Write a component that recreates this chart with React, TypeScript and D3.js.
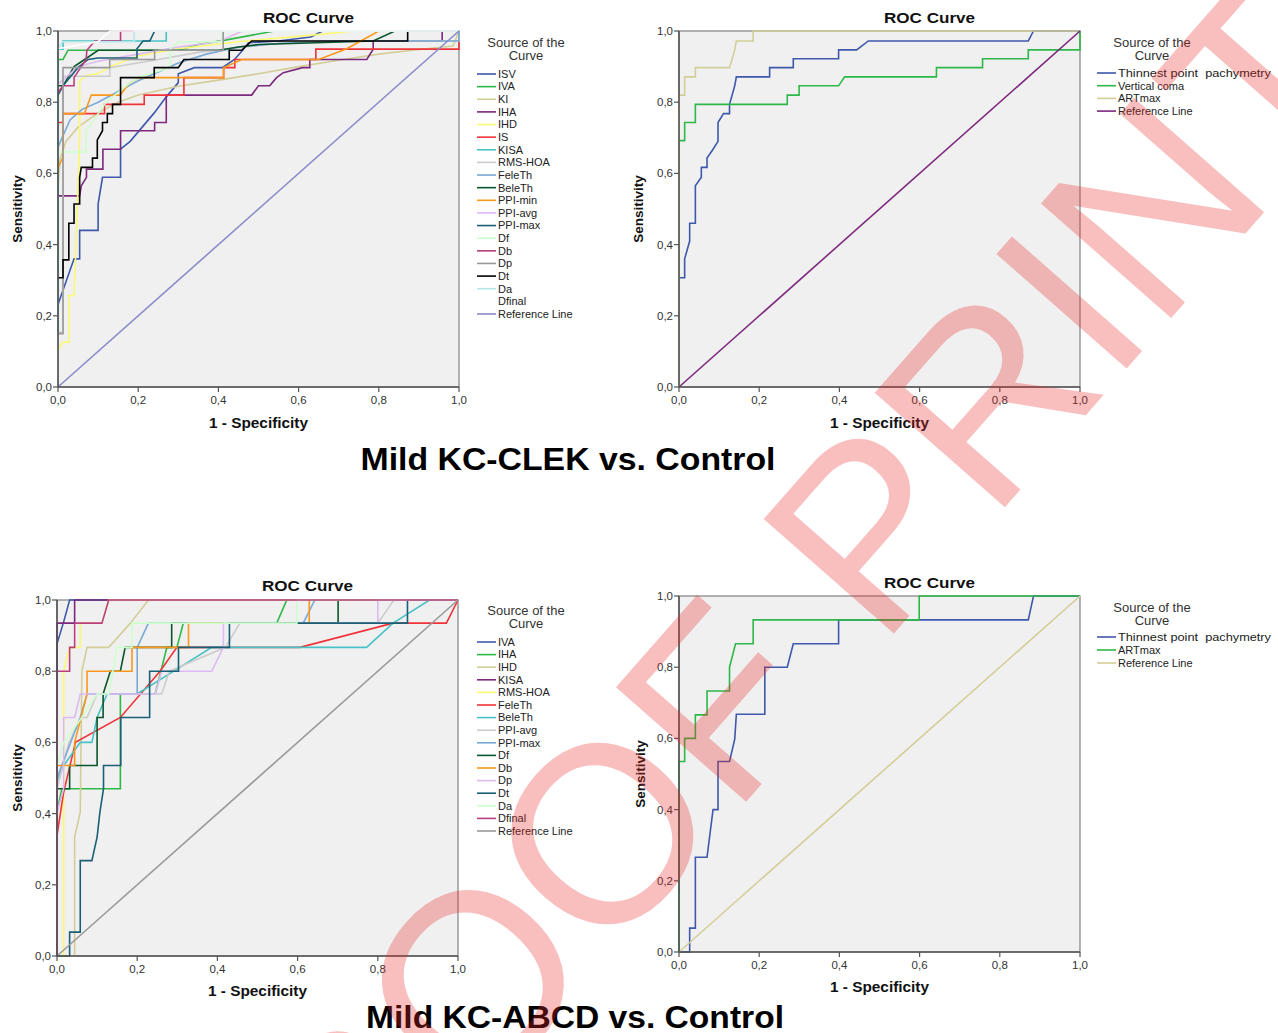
import React from "react";
import * as d3 from "d3";

type Pt = [number, number];

// SPSS default line palette
const PALETTE = ["#3E58AC","#2EB848","#D3CE97","#7C287D","#FBF873","#EF3338","#48C2C5","#CCCCCC","#7AAAD5","#0A562C","#F8981D","#DDBAF1","#1A5F76","#CCFFCC","#BB3F7F","#999999","#000000","#B6E7E8","#FFFFFF","#8A8AC8"];

const TICKS = [0, 0.2, 0.4, 0.6, 0.8, 1.0];
const REF: Pt[] = [[0, 0], [1, 1]];

// ---------- Panel 1: Mild KC-CLEK vs Control (many parameters) ----------
const tlNames = ["ISV","IVA","KI","IHA","IHD","IS","KISA","RMS-HOA","FeleTh","BeleTh","PPI-min","PPI-avg","PPI-max","Df","Db","Dp","Dt","Da","Dfinal","Reference Line"];
const tlISV: Pt[] = [[0,0.232],[0.04,0.36],[0.054,0.36],[0.054,0.44],[0.1,0.44],[0.1,0.514],[0.111,0.589],[0.156,0.589],[0.156,0.668],[0.18,0.69],[0.21,0.73],[0.24,0.77],[0.27,0.815],[0.3,0.855],[0.3,0.88],[0.34,0.897],[0.41,0.897],[0.44,0.92],[0.46,0.945],[0.475,0.967],[0.55,0.972],[0.63,0.983],[0.66,1],[1,1]];
const tlIVA: Pt[] = [[0,0],[0,0.92],[0.0125,0.92],[0.025,0.946],[0.3,0.946],[0.35,0.962],[0.42,0.975],[0.54,1],[1,1]];
const tlKI: Pt[] = [[0,0.56],[0.005,0.64],[0.02,0.69],[0.05,0.73],[0.1,0.77],[0.15,0.8],[0.2,0.82],[0.3,0.845],[0.4,0.862],[0.5,0.88],[0.6,0.9],[0.7,0.918],[0.8,0.935],[0.9,0.948],[0.985,0.958],[1,1]];
const tlIHA: Pt[] = [[0,0],[0,0.537],[0.054,0.537],[0.058,0.565],[0.071,0.589],[0.071,0.612],[0.112,0.612],[0.112,0.668],[0.156,0.668],[0.156,0.72],[0.241,0.72],[0.241,0.743],[0.27,0.743],[0.27,0.82],[0.483,0.82],[0.5,0.846],[0.528,0.846],[0.545,0.869],[0.562,0.883],[0.61,0.897],[0.628,0.897],[0.628,0.92],[0.77,0.92],[0.786,0.949],[0.786,0.972],[0.958,0.972],[0.958,1],[1,1]];
const tlIHD: Pt[] = [[0,0.103],[0.0125,0.126],[0.027,0.126],[0.027,0.257],[0.04,0.257],[0.045,0.4],[0.054,0.7],[0.054,0.86],[0.07,0.875],[0.1,0.88],[0.13,0.9],[0.2,0.93],[0.3,0.95],[0.45,0.97],[0.6,0.985],[0.74,1],[1,1]];
const tlIS: Pt[] = [[0,0],[0,0.743],[0.0125,0.743],[0.0125,0.768],[0.116,0.768],[0.116,0.794],[0.215,0.794],[0.215,0.82],[0.314,0.82],[0.314,0.869],[0.413,0.869],[0.413,0.897],[0.441,0.897],[0.441,0.92],[0.643,0.92],[0.643,0.949],[1,0.949],[1,1]];
const tlKISA: Pt[] = [[0,0],[0,0.949],[0.0125,0.949],[0.0125,0.972],[0.27,0.972],[0.27,1],[1,1]];
const tlRMS: Pt[] = [[0,0],[0,0.154],[0.0125,0.154],[0.0125,0.873],[0.129,0.873],[0.129,0.897],[0.25,0.92],[0.35,0.94],[0.6,0.972],[1,0.972],[1,1]];
const tlFeleTh: Pt[] = [[0,0.673],[0.01,0.7],[0.03,0.75],[0.06,0.78],[0.1,0.8],[0.15,0.83],[0.2,0.86],[0.25,0.885],[0.3,0.91],[0.37,0.935],[0.45,0.955],[0.55,0.965],[0.7,0.972],[1,0.972],[1,1]];
const tlBeleTh: Pt[] = [[0,0.846],[0.0125,0.846],[0.025,0.87],[0.04,0.9],[0.06,0.915],[0.1,0.946],[0.4,0.946],[0.45,0.955],[0.5,0.962],[0.786,0.972],[0.84,1],[1,1]];
const tlPPImin: Pt[] = [[0,0.617],[0.0125,0.645],[0.0125,0.768],[0.066,0.768],[0.083,0.82],[0.155,0.82],[0.175,0.85],[0.2,0.869],[0.413,0.869],[0.413,0.897],[0.458,0.92],[0.65,0.92],[0.72,0.95],[0.8,1],[1,1]];
const tlPPIavg: Pt[] = [[0,0.85],[0.02,0.87],[0.05,0.9],[0.1,0.915],[0.2,0.935],[0.3,0.955],[0.4,0.97],[0.46,1],[1,1]];
const tlPPImax: Pt[] = [[0,0.82],[0.0125,0.846],[0.03,0.87],[0.05,0.897],[0.075,0.92],[0.1,0.924],[0.197,0.924],[0.197,0.95],[0.212,0.972],[0.229,0.972],[0.241,1],[1,1]];
const tlDf: Pt[] = [[0,0.66],[0.07,0.66],[0.07,0.72],[0.12,0.8],[0.17,0.846],[0.2,0.87],[0.28,0.897],[0.28,0.95],[0.3,0.97],[0.41,0.97],[0.41,1],[1,1]];
const tlDb: Pt[] = [[0,0.827],[0.0125,0.846],[0.04,0.846],[0.04,0.869],[0.07,0.92],[0.072,0.946],[0.092,0.972],[0.156,0.972],[0.156,1],[1,1]];
const tlDp: Pt[] = [[0,0.15],[0.0125,0.15],[0.0125,0.897],[0.129,0.897],[0.129,0.92],[0.241,0.92],[0.241,0.946],[0.412,0.946],[0.412,1],[1,1]];
const tlDt: Pt[] = [[0,0.307],[0.0125,0.307],[0.0125,0.357],[0.027,0.357],[0.027,0.46],[0.04,0.46],[0.04,0.514],[0.054,0.514],[0.054,0.589],[0.058,0.617],[0.086,0.617],[0.086,0.643],[0.098,0.643],[0.098,0.694],[0.111,0.72],[0.111,0.743],[0.123,0.743],[0.123,0.768],[0.136,0.768],[0.136,0.794],[0.156,0.794],[0.156,0.869],[0.24,0.869],[0.24,0.897],[0.3,0.897],[0.314,0.92],[0.427,0.92],[0.427,0.946],[0.458,0.946],[0.483,0.972],[0.872,0.972],[0.872,1],[1,1]];
const tlDa: Pt[] = [[0,0.949],[0.012,0.97],[0.19,0.97],[0.19,1],[1,1]];
const tlDfinal: Pt[] = [[0,0.95],[0.1,0.97],[0.13,1],[1,1]];
const tlSeries: Pt[][] = [tlISV,tlIVA,tlKI,tlIHA,tlIHD,tlIS,tlKISA,tlRMS,tlFeleTh,tlBeleTh,tlPPImin,tlPPIavg,tlPPImax,tlDf,tlDb,tlDp,tlDt,tlDa,tlDfinal,REF];

// ---------- Panel 2: Mild KC-CLEK vs Control (3 parameters) ----------
const trNames = ["Thinnest point  pachymetry","Vertical coma","ARTmax","Reference Line"];
const trThin: Pt[] = [[0,0],[0,0.307],[0.0141,0.307],[0.0141,0.36],[0.0266,0.41],[0.0266,0.46],[0.0408,0.46],[0.0408,0.565],[0.0557,0.589],[0.0557,0.617],[0.0699,0.617],[0.0699,0.643],[0.0849,0.668],[0.0973,0.69],[0.0973,0.743],[0.111,0.768],[0.126,0.768],[0.126,0.794],[0.139,0.846],[0.143,0.871],[0.226,0.871],[0.226,0.897],[0.285,0.897],[0.285,0.922],[0.398,0.922],[0.398,0.947],[0.443,0.947],[0.472,0.972],[0.871,0.972],[0.884,1],[1,1]];
const trComa: Pt[] = [[0,0],[0,0.692],[0.0141,0.692],[0.0141,0.743],[0.0408,0.743],[0.0408,0.794],[0.27,0.794],[0.27,0.82],[0.2995,0.82],[0.2995,0.846],[0.398,0.846],[0.413,0.871],[0.642,0.871],[0.642,0.897],[0.757,0.897],[0.757,0.922],[0.871,0.922],[0.871,0.947],[1,0.947],[1,1]];
const trART: Pt[] = [[0,0],[0,0.82],[0.0141,0.82],[0.0141,0.871],[0.0408,0.871],[0.0408,0.897],[0.126,0.897],[0.139,0.947],[0.143,0.972],[0.185,0.972],[0.185,1],[1,1]];
const trSeries: Pt[][] = [trThin, trComa, trART, REF];

// ---------- Panel 3: Mild KC-ABCD vs Control (many parameters) ----------
const blNames = ["IVA","IHA","IHD","KISA","RMS-HOA","FeleTh","BeleTh","PPI-avg","PPI-max","Df","Db","Dp","Dt","Da","Dfinal","Reference Line"];
const blIVA: Pt[] = [[0,0],[0,0.877],[0.017,0.94],[0.0315,1],[1,1]];
const blIHA: Pt[] = [[0,0],[0,0.404],[0.012,0.47],[0.158,0.47],[0.158,0.736],[0.245,0.736],[0.274,0.867],[0.299,0.867],[0.315,0.935],[0.548,0.935],[0.573,1],[1,1]];
const blIHD: Pt[] = [[0,0],[0.044,0],[0.044,0.334],[0.058,0.404],[0.062,0.8],[0.075,0.867],[0.129,0.867],[0.183,0.935],[0.228,1],[1,1]];
const blKISA: Pt[] = [[0,0],[0,0.935],[0.044,0.935],[0.044,1],[1,1]];
const blRMS: Pt[] = [[0,0],[0.0166,0],[0.0166,0.8],[0.0315,0.867],[0.058,0.867],[0.058,0.935],[0.112,0.935],[0.129,1],[1,1]];
const blFeleTh: Pt[] = [[0,0.339],[0.0166,0.46],[0.046,0.6],[0.158,0.67],[0.257,0.8],[0.299,0.867],[0.606,0.867],[0.838,0.935],[0.971,0.935],[1,1]];
const blBeleTh: Pt[] = [[0,0.49],[0.0166,0.535],[0.058,0.6],[0.087,0.6],[0.1,0.67],[0.125,0.736],[0.2,0.736],[0.386,0.867],[0.772,0.867],[0.838,0.935],[0.929,1],[1,1]];
const blPPIavg: Pt[] = [[0,0.47],[0.03,0.6],[0.06,0.67],[0.075,0.67],[0.1,0.736],[0.261,0.736],[0.28,0.8],[0.42,0.867],[0.456,0.935],[0.8,0.935],[0.84,1],[1,1]];
const blPPImax: Pt[] = [[0,0.5],[0.058,0.67],[0.075,0.736],[0.2,0.736],[0.2,0.867],[0.228,0.935],[0.614,0.935],[0.643,1],[1,1]];
const blDf: Pt[] = [[0,0.47],[0.0315,0.47],[0.0315,0.535],[0.1,0.535],[0.1,0.67],[0.115,0.67],[0.115,0.736],[0.133,0.8],[0.158,0.8],[0.17,0.867],[0.286,0.867],[0.286,0.935],[0.701,0.935],[0.701,1],[1,1]];
const blDb: Pt[] = [[0,0.535],[0.044,0.535],[0.044,0.6],[0.075,0.736],[0.075,0.8],[0.187,0.8],[0.187,0.867],[0.328,0.867],[0.328,0.935],[0.629,0.935],[0.629,1],[1,1]];
const blDp: Pt[] = [[0,0.404],[0.0166,0.47],[0.0166,0.67],[0.044,0.67],[0.058,0.736],[0.245,0.736],[0.261,0.8],[0.386,0.8],[0.415,0.867],[0.415,0.935],[0.8,0.935],[0.8,1],[1,1]];
const blDt: Pt[] = [[0,0],[0.0315,0],[0.0315,0.067],[0.058,0.067],[0.058,0.268],[0.087,0.268],[0.1,0.334],[0.107,0.404],[0.116,0.47],[0.116,0.535],[0.159,0.535],[0.159,0.67],[0.231,0.67],[0.231,0.8],[0.303,0.8],[0.303,0.867],[0.43,0.867],[0.43,0.935],[0.874,0.935],[0.874,1],[1,1]];
const blDa: Pt[] = [[0,0.535],[0.0166,0.6],[0.062,0.67],[0.1,0.736],[0.129,0.736],[0.15,0.867],[0.187,0.867],[0.187,0.935],[0.598,0.935],[0.598,1],[1,1]];
const blDfinal: Pt[] = [[0,0],[0,0.8],[0.0315,0.8],[0.0315,0.867],[0.044,0.867],[0.044,0.935],[0.112,0.935],[0.129,1],[1,1]];
const blSeries: Pt[][] = [blIVA,blIHA,blIHD,blKISA,blRMS,blFeleTh,blBeleTh,blPPIavg,blPPImax,blDf,blDb,blDp,blDt,blDa,blDfinal,REF];

// ---------- Panel 4: Mild KC-ABCD vs Control (2 parameters) ----------
const brNames = ["Thinnest point  pachymetry","ARTmax","Reference Line"];
const brThin: Pt[] = [[0,0],[0.0266,0],[0.0266,0.067],[0.0408,0.067],[0.0408,0.266],[0.0699,0.266],[0.0849,0.4],[0.0973,0.4],[0.0973,0.535],[0.126,0.535],[0.139,0.598],[0.143,0.668],[0.214,0.668],[0.214,0.8],[0.27,0.8],[0.285,0.866],[0.398,0.866],[0.398,0.933],[0.871,0.933],[0.884,1],[1,1]];
const brART: Pt[] = [[0,0],[0,0.535],[0.0141,0.535],[0.0141,0.6],[0.0408,0.6],[0.0408,0.666],[0.0699,0.666],[0.0699,0.733],[0.126,0.733],[0.126,0.8],[0.141,0.866],[0.185,0.866],[0.185,0.933],[0.599,0.933],[0.599,1],[1,1]];
const brSeries: Pt[][] = [brThin, brART, REF];

const GROUP_TITLES = ["Mild KC-CLEK vs. Control", "Mild KC-ABCD vs. Control"];

const FONT = "'Liberation Sans', Arial, sans-serif";
const fmt = (v: number) => d3.format(".1f")(v).replace(".", ",");

type PanelProps = {
  left: number; top: number; w: number; h: number;
  names: string[]; series: Pt[][];
  legX: number; legTitleX: number; legTitleY: number; legStartY: number; legStep: number;
  titleY: number; sensX: number; specY: number;
};

function Panel(p: PanelProps) {
  const x = d3.scaleLinear().domain([0, 1]).range([p.left, p.left + p.w]);
  const y = d3.scaleLinear().domain([0, 1]).range([p.top + p.h, p.top]);
  const line = d3.line<Pt>().x(d => x(d[0])).y(d => y(d[1]));
  const cx = p.left + p.w / 2;
  const cy = p.top + p.h / 2;
  const colorOf = (i: number, n: number) => PALETTE[i === n - 1 && n === 20 ? 19 : i];
  return (
    <g>
      <rect x={p.left} y={p.top} width={p.w} height={p.h} fill="#f0f0f0" stroke="#8a8a8a" strokeWidth={1.3} />
      <g fill="none" strokeWidth={1.6} strokeLinejoin="miter">
        {p.series.map((s, i) => (
          <path key={i} d={line(s) || ""} stroke={colorOf(i, p.series.length)} />
        ))}
      </g>
      <line x1={p.left} x2={p.left} y1={p.top} y2={p.top + p.h} stroke="#555" strokeWidth={1.6} />
      <line x1={p.left} x2={p.left + p.w} y1={p.top + p.h} y2={p.top + p.h} stroke="#555" strokeWidth={1.6} />
      {TICKS.map(t => (
        <g key={"y" + t}>
          <line x1={p.left - 5} x2={p.left} y1={y(t)} y2={y(t)} stroke="#555" strokeWidth={1.2} />
          <text x={p.left - 6} y={y(t)} dy="0.35em" textAnchor="end" fontSize={11.5} fill="#333" fontFamily={FONT}>{fmt(t)}</text>
        </g>
      ))}
      {TICKS.map(t => (
        <g key={"x" + t}>
          <line x1={x(t)} x2={x(t)} y1={p.top + p.h} y2={p.top + p.h + 5} stroke="#555" strokeWidth={1.2} />
          <text x={x(t)} y={p.top + p.h + 17} textAnchor="middle" fontSize={11.5} fill="#333" fontFamily={FONT}>{fmt(t)}</text>
        </g>
      ))}
      <text x={cx + 50} y={p.titleY} textAnchor="middle" fontSize={15.5} fontWeight="bold" fill="#111" fontFamily={FONT} textLength={91} lengthAdjust="spacingAndGlyphs">ROC Curve</text>
      <text transform={`translate(${p.sensX},${cy}) rotate(-90)`} textAnchor="middle" fontSize={13.5} fontWeight="bold" fill="#111" fontFamily={FONT}>Sensitivity</text>
      <text x={cx} y={p.specY} textAnchor="middle" fontSize={14} fontWeight="bold" fill="#111" fontFamily={FONT} textLength={99} lengthAdjust="spacingAndGlyphs">1 - Specificity</text>
      <text x={p.legTitleX} y={p.legTitleY} textAnchor="middle" fontSize={13} fill="#333" fontFamily={FONT}>Source of the</text>
      <text x={p.legTitleX} y={p.legTitleY + 12.5} textAnchor="middle" fontSize={13} fill="#333" fontFamily={FONT}>Curve</text>
      {p.names.map((n, i) => {
        const ly = p.legStartY + i * p.legStep;
        const long = n.length > 20;
        return (
          <g key={n + i}>
            <line x1={p.legX} x2={p.legX + 19} y1={ly} y2={ly} stroke={colorOf(i, p.names.length)} strokeWidth={1.6} />
            <text x={p.legX + 21} y={ly} dy="0.35em" fontSize={11} fill="#222" fontFamily={FONT}
              style={{ whiteSpace: "pre" }}
              {...(long ? { textLength: 153, lengthAdjust: "spacingAndGlyphs" } : {})}>{n}</text>
          </g>
        );
      })}
    </g>
  );
}

export default function App() {
  return (
    <svg width={1278} height={1033} style={{ position: "absolute", left: 0, top: 0, background: "#fff" }}>
      <rect x={0} y={0} width={1278} height={1033} fill="#fff" />
      <Panel left={58} top={31} w={401} h={356} names={tlNames} series={tlSeries}
        legX={477} legTitleX={526} legTitleY={47} legStartY={74} legStep={12.63}
        titleY={23} sensX={22} specY={428} />
      <Panel left={679} top={31} w={401} h={356} names={trNames} series={trSeries}
        legX={1097} legTitleX={1152} legTitleY={47} legStartY={73} legStep={12.7}
        titleY={23} sensX={643} specY={428} />
      <Panel left={57} top={600} w={401} h={356} names={blNames} series={blSeries}
        legX={477} legTitleX={526} legTitleY={615} legStartY={642} legStep={12.6}
        titleY={591} sensX={22} specY={996} />
      <Panel left={679} top={596} w={401} h={356} names={brNames} series={brSeries}
        legX={1097} legTitleX={1152} legTitleY={612} legStartY={637} legStep={13}
        titleY={588} sensX={645} specY={992} />
      <text x={568} y={470} textAnchor="middle" fontSize={32} fontWeight="bold" fill="#000" fontFamily={FONT} textLength={415} lengthAdjust="spacingAndGlyphs">{GROUP_TITLES[0]}</text>
      <text x={575} y={1028} textAnchor="middle" fontSize={32} fontWeight="bold" fill="#000" fontFamily={FONT} textLength={418} lengthAdjust="spacingAndGlyphs">{GROUP_TITLES[1]}</text>
      <text transform="translate(811,728) rotate(-48.7)" textAnchor="middle" fontSize={252} fill="rgb(235,40,40)" fillOpacity={0.3} fontFamily={FONT}>PROOF PRINT</text>
    </svg>
  );
}
